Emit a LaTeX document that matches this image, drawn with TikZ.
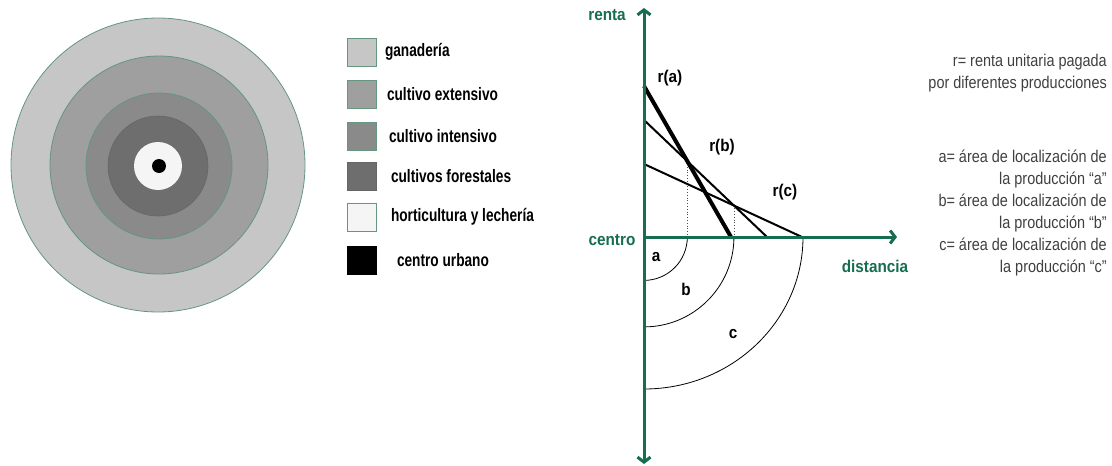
\documentclass[tikz,border=0pt]{standalone}
\usepackage{fontspec}
\setmainfont{Liberation Sans}
\newfontfamily\legfont[FakeStretch=0.76]{Liberation Sans}
\newfontfamily\axfont[FakeStretch=0.9]{Liberation Sans}
\newfontfamily\notefont[FakeStretch=0.85]{Liberation Sans}
\usepackage{xcolor}
\usetikzlibrary{arrows.meta,positioning}
\definecolor{axgreen}{RGB}{22,110,78}
\definecolor{ringedge}{RGB}{100,150,128}
\definecolor{zgan}{RGB}{198,198,198}
\definecolor{zext}{RGB}{159,159,159}
\definecolor{zint}{RGB}{138,138,138}
\definecolor{zfor}{RGB}{110,110,110}
\definecolor{zhor}{RGB}{245,245,245}

\begin{document}
\begin{tikzpicture}[x=1pt,y=-1pt,
  ring/.style={draw=ringedge,line width=.8pt},
  key/.style={draw=ringedge,line width=.6pt,minimum width=29pt,minimum height=28pt,
    inner sep=0pt},
  lbl/.style={font=\legfont\bfseries\fontsize{18}{20}\selectfont,inner sep=0pt},
  gl/.style={font=\axfont\bfseries\fontsize{17}{19}\selectfont,inner sep=0pt},
  ax/.style={draw=axgreen,line width=3pt},
  axl/.style={gl,text=axgreen},
  rl/.style={line width=2pt},
  drop/.style={dotted,line width=.8pt,black!70},
  zone/.style={line width=.8pt},
  note/.style={font=\notefont\fontsize{17}{22}\selectfont,text=black!75,
    align=right,inner sep=0pt}]
\useasboundingbox (0,0) rectangle (1112,466);
% rings
\fill[ring,fill=zgan] (158,165) circle[radius=147];
\fill[ring,fill=zext] (159,165) circle[radius=109];
\fill[ring,fill=zint] (159,166) circle[radius=73];
\fill[draw=black!60,line width=.6pt,fill=zfor] (158,166) circle[radius=50];
\fill[zhor] (158,166) circle[radius=24];
\fill[black] (159,166) circle[radius=7];
% legend
\node[key,fill=zgan] (kgan) at (362,52) {};
\node[lbl,right=8pt of kgan] (tgan) {ganadería};
\node[key,fill=zext] (kext) at (362,94) {};
\node[lbl,right=10pt of kext] (text) {cultivo extensivo};
\node[key,fill=zint] (kint) at (362,136) {};
\node[lbl,right=12pt of kint] (tint) {cultivo intensivo};
\node[key,fill=zfor,draw=black!60] (kfor) at (362,176) {};
\node[lbl,right=14pt of kfor] (tfor) {cultivos forestales};
\node[key,fill=zhor] (khor) at (362,217) {};
\node[lbl,right=14pt of khor] (thor) {horticultura y lechería};
\node[key,fill=black,draw=black] (kurb) at (362,260) {};
\node[lbl,right=20pt of kurb] (turb) {centro urbano};
% graph
\coordinate (O) at (644,237);
\coordinate (ytop) at (644,8);
\coordinate (ybot) at (644,464);
\coordinate (xend) at (897,237);
\coordinate (ra1) at (644,86);
\coordinate (ra2) at (731,237);
\coordinate (rb1) at (644,120);
\coordinate (rb2) at (767,237);
\coordinate (rc1) at (644,164);
\coordinate (rc2) at (802,237);
\coordinate (ab) at (intersection of ra1--ra2 and rb1--rb2);
\coordinate (bc) at (intersection of rb1--rb2 and rc1--rc2);
\draw[drop] (ab) -- (ab |- O);
\draw[drop] (bc) -- (bc |- O);
\draw[zone] (ab |- O) arc[start angle=0,end angle=90,radius=43.4];
\draw[zone] (bc |- O) arc[start angle=0,end angle=90,radius=89.9];
\draw[zone] (803,237) arc[start angle=0,end angle=90,x radius=159,y radius=152];
\draw[rl] (rc1) -- (rc2);
\draw[rl] (rb1) -- (rb2);
\draw[rl,line width=4pt] (ra1) -- (ra2);
\draw[ax,{Straight Barb[length=5pt,width=13pt]}-{Straight Barb[length=5pt,width=13pt]}]
  (ybot) -- (ytop);
\draw[ax,-{Straight Barb[length=5pt,width=13pt]}] (O) -- (xend);
\node[axl] (renta) at (607,15) {renta};
\node[axl] (centro) at (612,240) {centro};
\node[axl] (dist) at (875,266) {distancia};
\node[gl] (la) at (670,78) {r(a)};
\node[gl] (lb) at (722,147) {r(b)};
\node[gl] (lc) at (785,192) {r(c)};
\node[gl] (za) at (656,257) {a};
\node[gl] (zb) at (686,289) {b};
\node[gl] (zc) at (733,334) {c};
% notes
\node[note,anchor=north east] (nr) at (1107,54)
  {r= renta unitaria pagada\\por diferentes producciones};
\node[note,anchor=north east] (nabc) at (1107,150)
  {a= área de localización de\\la producción “a”\\b= área de localización de\\la producción “b”\\c= área de localización de\\la producción “c”};
\end{tikzpicture}
\end{document}
